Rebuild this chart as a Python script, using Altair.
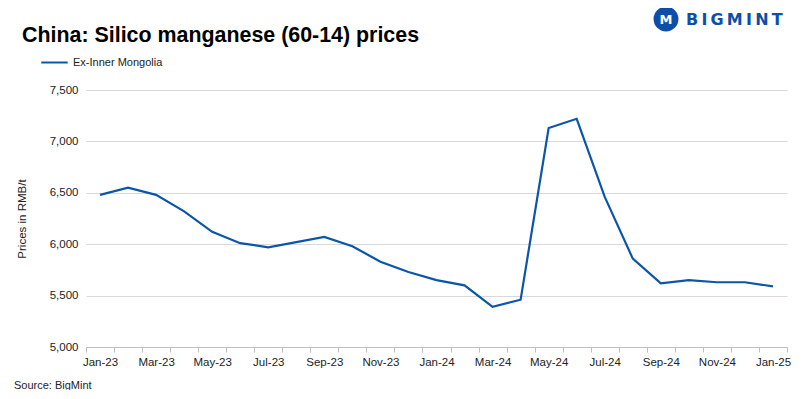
import altair as alt
import pandas as pd

months = ["Jan-23", "Feb-23", "Mar-23", "Apr-23", "May-23", "Jun-23", "Jul-23", "Aug-23",
          "Sep-23", "Oct-23", "Nov-23", "Dec-23", "Jan-24", "Feb-24", "Mar-24", "Apr-24",
          "May-24", "Jun-24", "Jul-24", "Aug-24", "Sep-24", "Oct-24", "Nov-24", "Dec-24", "Jan-25"]
prices = [6480, 6550, 6480, 6320, 6120, 6010, 5970, 6020, 6070, 5980, 5830, 5730, 5650,
          5600, 5390, 5460, 7130, 7220, 6460, 5860, 5620, 5650, 5630, 5630, 5590]
series_name = "Ex-Inner Mongolia"
y_ticks = [5000, 5500, 6000, 6500, 7000, 7500]
title_text = "China: Silico manganese (60-14) prices"
source_text = "Source: BigMint"
logo_word = "B\u2009I\u2009G\u2009M\u2009I\u2009N\u2009T"

df = pd.DataFrame({"month": months, "price": prices, "series": series_name})

FONT = "Liberation Sans"
BLUE = "#0b56a8"
LOGO_BLUE = "#0d4fa8"

label_expr = ("indexof(['Jan','Mar','May','Jul','Sep','Nov'], slice(datum.label,0,3)) >= 0"
              " ? datum.label : ''")

line = alt.Chart(df).mark_line(strokeWidth=2.2).encode(
    x=alt.X("month:O", sort=None,
            scale=alt.Scale(type="band", paddingInner=0, paddingOuter=0),
            axis=alt.Axis(title=None, labelAngle=0, labelExpr=label_expr, tickBand="extent",
                          domainColor="#bfbfbf", tickColor="#bfbfbf", tickSize=5,
                          labelFont=FONT, labelFontSize=11.5, labelColor="#222222",
                          labelPadding=4, grid=False, labelOverlap=False)),
    y=alt.Y("price:Q", scale=alt.Scale(domain=[5000, 7500], nice=False, zero=False),
            axis=alt.Axis(values=y_ticks, format=",.0f", title="Prices in RMB/t",
                          titleFont=FONT, titleFontSize=11.5, titleFontWeight="normal",
                          titleColor="#222222", titlePadding=22,
                          labelFont=FONT, labelFontSize=11.5, labelColor="#222222",
                          labelPadding=8, domain=False, ticks=False,
                          gridColor="#d9d9d9", gridWidth=1)),
    color=alt.Color("series:N", scale=alt.Scale(range=[BLUE]),
                    legend=alt.Legend(title=None, orient="none", legendX=-46, legendY=-42,
                                      symbolType="stroke", symbolStrokeWidth=2,
                                      symbolSize=700, labelFont=FONT, labelFontSize=11,
                                      labelColor="#222222", labelOffset=4)),
)

title = alt.Chart(pd.DataFrame({"t": [title_text]})).mark_text(
    align="left", baseline="alphabetic", font=FONT, fontSize=21.4, fontWeight="bold",
    color="#000000"
).encode(text="t:N", x=alt.value(-64), y=alt.value(-48))

source = alt.Chart(pd.DataFrame({"t": [source_text]})).mark_text(
    align="left", baseline="middle", font=FONT, fontSize=11, color="#222222"
).encode(text="t:N", x=alt.value(-72), y=alt.value(296))

logo_icon = alt.Chart(pd.DataFrame({"t": ["M"]})).mark_point(
    filled=True, size=620, color=LOGO_BLUE, opacity=1, shape="circle"
).encode(x=alt.value(580), y=alt.value(-71))

logo_icon_txt = alt.Chart(pd.DataFrame({"t": ["M"]})).mark_text(
    font="DejaVu Sans", fontSize=13, fontWeight="bold", color="white", baseline="middle"
).encode(text="t:N", x=alt.value(580), y=alt.value(-70))

logo_text = alt.Chart(pd.DataFrame({"t": [logo_word]})).mark_text(
    font="DejaVu Sans", fontSize=16, fontWeight="bold", color=LOGO_BLUE,
    align="left", baseline="middle"
).encode(text="t:N", x=alt.value(600), y=alt.value(-70))

chart = alt.layer(line, title, source, logo_icon, logo_icon_txt, logo_text).properties(
    width=701, height=257,
    padding={"left": 78, "top": 82, "right": 6, "bottom": 43},
    autosize=alt.AutoSizeParams(type="none"),
).configure_view(stroke=None)

chart.save("out.html", embed_options={"renderer": "svg", "actions": False})
